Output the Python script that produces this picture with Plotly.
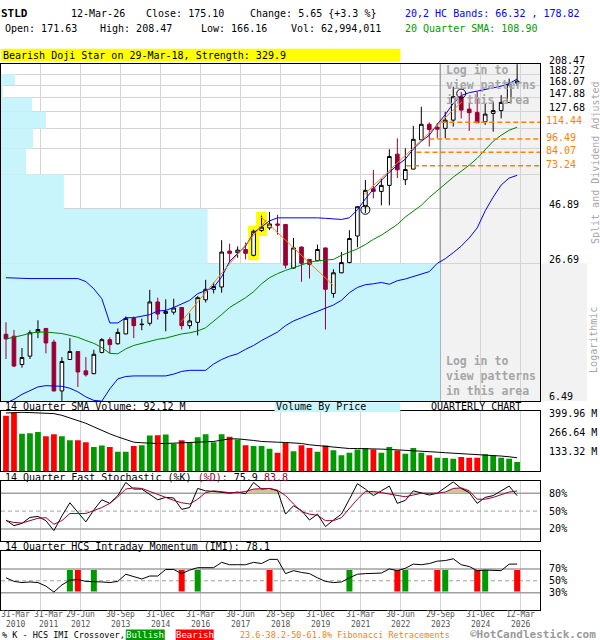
import numpy as np
import plotly.graph_objects as go

W, H = 600, 640
FONT = "DejaVu Sans Mono"
MAROON = "#990033"
ORANGE = "#FF8000"
GRID = "#D4D4D4"
CYAN = "#C8F4FC"
GREY_TXT = "#A6A6A6"
UP_GREEN = "#009900"
DN_RED = "#FF0000"

symbol = "STLD"
as_of = "12-Mar-26"

# Quarterly OHLC, Q1 2010 .. Q1 2026 (split and dividend adjusted)
open_ = [12.9, 12.65, 9.45, 10.3, 13.2, 13.7, 11.9, 7.2, 9.95, 10.8,
         8.85, 8.6, 10.7, 12.2, 11.7, 12.95, 15.2, 14.25, 14.45, 18.0,
         16.0, 16.2, 17.0, 14.1, 14.6, 18.4, 20.5, 21.0, 30.4, 29.9,
         30.9, 29.1, 37.6, 38.6, 40.2, 40.0, 25.5, 31.7, 27.9, 27.5,
         31.4, 19.65, 24.3, 27.0, 35.5, 48.0, 57.7, 56.2, 59.8, 82.5,
         63.4, 70.7, 95.6, 112.2, 108.9, 107.6, 117.1, 149.0, 131.2, 126.8,
         115.2, 125.5, 129.2, 140.6, 171.63]
high = [14.6, 13.5, 11.2, 13.45, 14.9, 13.75, 12.2, 10.2, 12.4, 10.85,
        10.2, 11.0, 12.4, 12.5, 13.7, 15.5, 15.5, 15.15, 20.4, 18.8,
        18.5, 18.6, 17.05, 16.0, 19.1, 22.6, 22.0, 34.0, 32.8, 31.9,
        33.2, 37.9, 43.8, 45.5, 44.2, 40.0, 34.8, 31.8, 27.95, 32.5,
        31.5, 25.2, 30.1, 37.7, 48.3, 63.3, 70.1, 63.9, 86.8, 97.1,
        87.7, 110.4, 134.4, 114.5, 113.3, 127.6, 165.3, 156.6, 140.7, 156.6,
        139.1, 141.5, 151.4, 179.7, 208.47]
low = [10.0, 9.2, 9.15, 10.0, 12.4, 10.6, 7.15, 6.5, 9.9, 7.5,
       8.35, 8.55, 10.6, 10.6, 11.6, 12.9, 12.4, 13.45, 14.1, 15.0,
       13.3, 15.8, 13.55, 13.65, 12.75, 17.9, 19.65, 19.8, 27.2, 28.4,
       27.9, 28.8, 37.0, 37.8, 36.0, 25.4, 25.4, 22.15, 22.9, 27.4,
       13.55, 18.8, 24.2, 26.8, 31.6, 45.0, 52.3, 48.7, 48.7, 64.5,
       60.0, 70.7, 95.6, 89.2, 97.1, 97.1, 109.6, 119.2, 104.7, 113.9,
       111.4, 104.0, 119.2, 140.5, 166.16]
close = [12.3, 9.3, 10.15, 13.1, 13.55, 11.8, 7.2, 9.75, 10.8, 8.75,
         8.5, 10.5, 12.2, 11.6, 13.15, 15.2, 14.1, 14.3, 18.0, 15.9,
         16.3, 16.9, 14.1, 14.8, 18.8, 20.5, 21.1, 30.1, 29.7, 30.7,
         29.7, 37.3, 38.9, 40.2, 39.7, 26.3, 31.4, 26.8, 26.5, 30.9,
         20.5, 24.3, 27.0, 34.6, 48.0, 56.8, 56.2, 59.8, 80.5, 70.2,
         70.4, 96.1, 112.2, 106.4, 106.7, 117.1, 149.0, 129.9, 126.4, 114.0,
         124.6, 129.2, 140.6, 169.45, 175.10]

# Volume (millions of shares) and its 14-quarter SMA
volume_m = [384, 405, 258, 262, 271, 242, 255, 242, 214, 214,
            200, 166, 177, 166, 133, 133, 173, 179, 246, 248,
            253, 189, 214, 200, 235, 255, 200, 255, 237, 219,
            179, 173, 173, 154, 127, 196, 138, 179, 159, 133,
            177, 145, 110, 127, 150, 159, 150, 127, 166, 143,
            120, 159, 127, 110, 92, 90, 85, 97, 92, 92,
            117, 108, 92, 85, 62.994011]
vol_sma14 = [402, 407, 407, 405, 402, 402, 398, 386, 368, 352,
             331, 306, 281, 258, 237, 219, 200, 196, 191, 191,
             191, 193, 196, 198, 198, 200, 205, 214, 223, 223,
             219, 212, 205, 200, 200, 198, 196, 191, 182, 177,
             173, 166, 159, 156, 156, 156, 154, 152, 150, 147,
             145, 145, 140, 136, 131, 127, 124, 122, 120, 115,
             110, 106, 104, 99, 92.12]

# 20,2 HC bands and 20-quarter SMA
hc_upper = [23.1, 23.0, 22.9, 22.9, 22.9, 22.9, 22.9, 22.9, 22.9, 22.9,
            22.2, 20.6, 18.6, 14.5, 14.5, 15.3, 15.3, 15.5, 15.8, 16.4,
            16.5, 17.0, 17.6, 18.3, 19.6, 20.2, 20.9, 23.3, 27.3, 29.7,
            32.0, 36.7, 39.0, 41.5, 42.8, 42.8, 42.8, 43.0, 43.0, 42.8,
            42.6, 42.3, 42.1, 42.8, 46.5, 52.0, 57.6, 63.0, 68.5, 73.6,
            78.4, 86.9, 94.2, 100.2, 112.2, 123.9, 139.1, 150.9, 155.4, 157.9,
            160.3, 162.8, 166.1, 170.7, 178.82]
hc_lower = [6.35, 6.6, 6.95, 7.25, 7.5, 7.6, 7.6, 7.55, 7.4, 7.13,
            6.77, 6.53, 6.48, 7.35, 8.15, 8.35, 8.4, 8.4, 8.4, 8.4,
            8.4, 8.56, 8.8, 8.9, 8.9, 8.9, 9.5, 9.95, 10.3, 10.55,
            11.05, 11.5, 12.1, 12.65, 13.2, 14.1, 14.8, 15.3, 15.8, 16.4,
            16.9, 17.45, 18.3, 19.8, 20.9, 21.5, 21.7, 22.0, 21.6, 22.4,
            22.8, 23.4, 23.9, 24.6, 26.8, 28.1, 29.9, 32.0, 34.8, 38.6,
            46.0, 53.0, 60.0, 64.5, 66.32]
sma20 = [12.3, 12.5, 12.75, 13.05, 13.2, 13.2, 13.15, 13.0, 12.75, 12.5,
         12.1, 11.75, 11.25, 10.6, 10.55, 11.1, 11.5, 11.75, 12.0, 12.25,
         12.4, 12.65, 12.95, 13.1, 13.35, 13.8, 14.7, 15.8, 17.0, 17.9,
         18.8, 20.0, 21.7, 23.1, 24.1, 24.9, 25.6, 26.4, 27.1, 27.5,
         27.6, 27.9, 29.1, 30.0, 31.1, 32.5, 34.3, 35.8, 37.8, 40.0,
         43.2, 45.9, 48.7, 52.8, 56.6, 61.2, 65.1, 69.2, 73.6, 79.1,
         86.8, 94.2, 100.2, 105.5, 108.90]

# 14-quarter fast stochastic
stoch_k = [35, 25.6, 29.4, 39.4, 41.1, 33.9, 17.2, 42, 64, 48,
           32, 52, 69, 63, 76, 98, 87, 87, 78, 69,
           73, 72, 53, 56, 88, 84, 83, 81, 80, 82,
           79, 98, 87, 88, 84, 45, 59, 51, 35, 45,
           24, 35, 45, 70, 96, 87, 76, 84, 92, 63,
           68, 84, 81, 77, 80, 89, 99, 88, 81, 63,
           73, 76, 84, 92, 75.9]
stoch_d = [34, 31, 30, 34, 38, 39, 28, 34, 46, 46,
           46, 51, 56, 63, 74, 87, 89, 88, 83, 77,
           73, 68, 64, 62, 70, 81, 84, 82, 81, 81,
           83, 87, 88, 88, 85, 76, 62, 49, 45, 43,
           34, 34, 39, 55, 70, 83, 83, 81, 79, 76,
           74, 77, 80, 80, 80, 82, 88, 89, 84, 70,
           70, 73, 77, 82, 83.8]
stoch_shade = [(25, 28), (30, 34), (45, 47), (54, 58)]

# 14-quarter HCS intraday momentum and %K crossovers
imi = [55, 49, 47, 48, 47, 41, 31, 43, 51, 52,
       49, 49, 48, 47, 49, 61, 57, 53, 58, 58,
       69, 69, 62, 68, 72, 72, 72, 81, 77, 77,
       77, 81, 79, 86, 86, 62, 67, 64, 62, 55,
       49, 47, 48, 55, 61, 62, 62, 63, 70, 67,
       71, 78, 77, 79, 83, 84, 87, 77, 74, 67,
       68, 68, 67, 78, 78.1]
imi_bull_q = [8, 11, 24, 43, 50, 55, 60]
imi_bear_q = [9, 22, 33, 49, 54, 59, 64]

# x-axis labels
tick_q = [0, 4, 9, 14, 19, 24, 29, 34, 39, 44, 49, 54, 59, 64]
tick_day = ["31-Mar", "31-Mar", "29-Jun", "30-Sep", "31-Dec", "31-Mar", "30-Jun",
            "28-Sep", "31-Dec", "31-Mar", "30-Jun", "29-Sep", "31-Dec", "12-Mar"]
tick_year = ["2010", "2011", "2012", "2013", "2014", "2016", "2017",
             "2018", "2019", "2021", "2022", "2023", "2024", "2026"]

# price grid and volume-by-price per band (bottom band first)
price_grid = [6.49, 26.69, 46.89, 67.08, 87.28, 107.48, 127.68, 147.88, 168.07, 188.27, 208.47]
price_grid_labels = ["6.49", "26.69", "46.89", "", "", "", "127.68", "147.88", "168.07", "188.27", "208.47"]
vbp_volume = [4400, 2070, 630, 250, 320, 450, 310, 20, 140, 0]
VBP_FULL = 5400

# candlestick pattern
pattern_name = "Bearish Doji Star"
pattern_date = "29-Mar-18"
pattern_strength = 329.9
pattern_q = [31, 32]

# Fibonacci retracements, trend lines, signal circles
fib_levels = [114.44, 96.49, 84.07, 73.24]
fib_from_q = [54.5, 53.0, 51.4, 50.1]
trend_lines = [((21.875, 14.6), (32.6, 41.9)),
               ((31.9, 43.3), (41.0, 21.3)),
               ((44.8, 54.3), (57.1, 141.5))]
signal_q = [45, 57]
signal_price = [46.5, 154.0]

# ---------------------------------------------------------------------------
n = len(close)
q = list(range(n))
X0, X1 = -0.625, n + 1.875
GRID_OFF = 0.375
grid_x = [t + GRID_OFF for t in tick_q[1:]]
PATTERN_ZONE = tick_q[11] + GRID_OFF


def fx(px):
    return px / W


def fy(py):
    return 1 - py / H


fig = go.Figure()

# price panel
fig.add_trace(go.Candlestick(
    x=q, open=open_, high=high, low=low, close=close, xaxis="x", yaxis="y",
    increasing=dict(line=dict(color="black", width=1), fillcolor="white"),
    decreasing=dict(line=dict(color=MAROON, width=1), fillcolor=MAROON),
    whiskerwidth=0, hoverinfo="skip"))
for ys, col in [(hc_upper, "#0000FF"), (hc_lower, "#0000FF"), (sma20, "#008000")]:
    fig.add_trace(go.Scatter(x=q, y=ys, mode="lines", line=dict(color=col, width=1),
                             xaxis="x", yaxis="y", hoverinfo="skip"))
for (xa, ya), (xb, yb) in trend_lines:
    fig.add_trace(go.Scatter(x=[xa, xb], y=[ya, yb], mode="lines",
                             line=dict(color=ORANGE, width=1), xaxis="x", yaxis="y", hoverinfo="skip"))
for lvl, start in zip(fib_levels, fib_from_q):
    fig.add_trace(go.Scatter(x=[start, X1], y=[lvl, lvl], mode="lines",
                             line=dict(color=ORANGE, width=1.5, dash="5px,3px"),
                             xaxis="x", yaxis="y", hoverinfo="skip"))
fig.add_trace(go.Scatter(x=signal_q, y=signal_price, mode="markers",
                         marker=dict(symbol="circle-open", size=9, color="black", line=dict(width=1)),
                         xaxis="x", yaxis="y", hoverinfo="skip"))

# volume panel
vol_colors = [UP_GREEN if close[i] >= (close[i - 1] if i else open_[i]) else DN_RED for i in q]
fig.add_trace(go.Bar(x=q, y=volume_m, width=0.72, marker=dict(color=vol_colors, line=dict(width=0)),
                     xaxis="x2", yaxis="y2", hoverinfo="skip"))
fig.add_trace(go.Scatter(x=q, y=vol_sma14, mode="lines", line=dict(color="black", width=1),
                         xaxis="x2", yaxis="y2", hoverinfo="skip"))

# stochastic panel: overbought shading between %D and the 80 line
for a, b in stoch_shade:
    xs, ys = [], []
    if a > 0 and stoch_d[a - 1] < 80 < stoch_d[a]:
        t = (80 - stoch_d[a - 1]) / (stoch_d[a] - stoch_d[a - 1])
        xs.append(a - 1 + t); ys.append(80)
    for i in range(a, b + 1):
        xs.append(i); ys.append(max(stoch_d[i], 80))
    if b + 1 < n and stoch_d[b + 1] < 80 < stoch_d[b]:
        t = (stoch_d[b] - 80) / (stoch_d[b] - stoch_d[b + 1])
        xs.append(b + t); ys.append(80)
    fig.add_trace(go.Scatter(x=xs + xs[::-1], y=ys + [80] * len(xs), mode="lines", fill="toself",
                             fillcolor="#CCC69A", line=dict(width=0), xaxis="x3", yaxis="y3",
                             hoverinfo="skip"))
fig.add_trace(go.Scatter(x=q, y=stoch_k, mode="lines", line=dict(color="black", width=1),
                         xaxis="x3", yaxis="y3", hoverinfo="skip"))
fig.add_trace(go.Scatter(x=q, y=stoch_d, mode="lines", line=dict(color=MAROON, width=1),
                         xaxis="x3", yaxis="y3", hoverinfo="skip"))

# IMI panel
fig.add_trace(go.Bar(x=imi_bull_q + imi_bear_q, y=[36] * (len(imi_bull_q) + len(imi_bear_q)), base=32,
                     width=0.75,
                     marker=dict(color=[UP_GREEN] * len(imi_bull_q) + [DN_RED] * len(imi_bear_q),
                                 line=dict(width=0)),
                     xaxis="x4", yaxis="y4", hoverinfo="skip"))
fig.add_trace(go.Scatter(x=q, y=imi, mode="lines", line=dict(color="black", width=1),
                         xaxis="x4", yaxis="y4", hoverinfo="skip"))

# ---------------------------------------------------------------------------
shapes = []
# pattern zone (greyed) and its divider
shapes.append(dict(type="rect", xref="x", yref="y", x0=PATTERN_ZONE, x1=X1,
                   y0=price_grid[0], y1=price_grid[-1],
                   fillcolor="#F2F2F2", line=dict(width=0), layer="below"))
shapes.append(dict(type="line", xref="x", yref="y", x0=PATTERN_ZONE, x1=PATTERN_ZONE,
                   y0=price_grid[0], y1=price_grid[-1],
                   line=dict(color="#A0A0A0", width=1.5), layer="between"))
# volume by price
for lo, hi, v in zip(price_grid[:-1], price_grid[1:], vbp_volume):
    if v > 0:
        shapes.append(dict(type="rect", xref="x", yref="y", x0=X0, x1=X0 + (X1 - X0) * v / VBP_FULL,
                           y0=lo, y1=hi, fillcolor=CYAN, line=dict(width=0), layer="between"))
# pattern highlight
for pq in pattern_q:
    shapes.append(dict(type="rect", xref="x", yref="y", x0=pq - 0.69, x1=pq + 0.69,
                       y0=low[pq] * 0.96, y1=high[pq] * 1.04,
                       fillcolor="#FFFF00", line=dict(width=0), layer="between"))
# reference levels
for xref, yref, levels in [("x3", "y3", (80, 50, 20)), ("x4", "y4", (70, 50, 30))]:
    for k, lv in enumerate(levels):
        shapes.append(dict(type="line", xref=xref, yref=yref, x0=X0, x1=X1, y0=lv, y1=lv,
                           line=dict(color="#A0A0A0", width=1.5 if k != 1 else 1,
                                     dash="solid" if k != 1 else "4px,3px"),
                           layer="between"))
# header / legend boxes
shapes.append(dict(type="rect", xref="paper", yref="paper", x0=0, x1=fx(400), y0=fy(57.5), y1=fy(45),
                   fillcolor="#FFFF00", line=dict(width=0)))
shapes.append(dict(type="rect", xref="paper", yref="paper", x0=fx(274), x1=fx(400), y0=fy(410.5),
                   y1=fy(401), fillcolor=CYAN, line=dict(width=0)))
shapes.append(dict(type="rect", xref="paper", yref="paper", x0=fx(541), x1=fx(587), y0=fy(399.5),
                   y1=fy(261), fillcolor="#F2F2F2", line=dict(width=0), layer="below"))
shapes.append(dict(type="rect", xref="paper", yref="paper", x0=fx(125), x1=fx(164), y0=fy(640),
                   y1=fy(629.5), fillcolor=UP_GREEN, line=dict(width=0)))
shapes.append(dict(type="rect", xref="paper", yref="paper", x0=fx(175), x1=fx(213), y0=fy(640),
                   y1=fy(629.5), fillcolor=DN_RED, line=dict(width=0)))


def txt(px, py, s, size=10, color="black", bold=False, anchor="left", **kw):
    return dict(x=fx(px), y=fy(py), xref="paper", yref="paper", text=s, showarrow=False,
                xanchor=anchor, yanchor="middle", borderpad=0, borderwidth=0,
                font=dict(family=FONT, size=size, color=color, weight="bold" if bold else "normal"), **kw)


chg = close[-1] - close[-2]
pct = chg / close[-2] * 100
ann = [
    txt(0, 9.5, symbol, size=11, bold=True),
    txt(70, 9.5, as_of),
    txt(145, 9.5, f"Close: {close[-1]:.2f}"),
    txt(249.5, 9.5, f"Change: {chg:.2f} {{{'+' if chg >= 0 else ''}{pct:.1f} %}}"),
    txt(4.5, 24.5, f"Open: {open_[-1]:.2f}"),
    txt(99.5, 24.5, f"High: {high[-1]:.2f}"),
    txt(200, 24.5, f"Low: {low[-1]:.2f}"),
    txt(290, 24.5, f"Vol: {round(volume_m[-1] * 1e6):,}"),
    txt(404.5, 9.5, f"20,2 HC Bands: {hc_lower[-1]:.2f} , {hc_upper[-1]:.2f}", color="#0000FF"),
    txt(404.5, 24.5, f"20 Quarter SMA: {sma20[-1]:.2f}", color="#009900"),
    txt(2, 51.5, f"{pattern_name} on {pattern_date}, Strength: {pattern_strength}"),
    txt(446, 82, "Log in to<br>view patterns<br>in this area", size=11.5, color=GREY_TXT, bold=True,
        align="left"),
    txt(446, 374, "Log in to<br>view patterns<br>in this area", size=11.5, color=GREY_TXT, bold=True,
        align="left"),
    txt(595, 160, "Split and Dividend Adjusted", color=GREY_TXT, anchor="center", textangle=-90),
    txt(594, 338, "Logarithmic", color=GREY_TXT, anchor="center", textangle=-90),
    txt(4.5, 405.5, f"14 Quarter SMA Volume: {vol_sma14[-1]:.2f} M"),
    txt(275.5, 405.5, "Volume By Price"),
    txt(430.5, 405.5, "QUARTERLY CHART"),
    txt(4.5, 476, "14 Quarter Fast Stochastic (%K) "
                  f"<span style='color:{MAROON}'>(%D)</span>: {stoch_k[-1]:.1f} "
                  f"<span style='color:{MAROON}'>{stoch_d[-1]:.1f}</span>"),
    txt(4.5, 546, f"14 Quarter HCS Intraday Momentum (IMI): {imi[-1]:.1f}"),
    txt(1, 635, "% K - HCS IMI Crossover,", size=8.5),
    txt(144.5, 635, "Bullish", size=9, color="white", anchor="center"),
    txt(194, 635, "Bearish", size=9, color="white", anchor="center"),
    txt(239, 635, "23.6-38.2-50-61.8% Fibonacci Retracements", size=8.5, color=ORANGE),
    txt(596, 634.5, "©HotCandlestick.com", size=11, color="#9A9A9A", bold=True, anchor="right"),
]
# right-hand price scale, written just above each grid line
for lvl, lab in zip(price_grid, price_grid_labels):
    if lab:
        ann.append(dict(x=fx(548), y=np.log10(lvl), xref="paper", yref="y", text=lab,
                        showarrow=False, xanchor="left", yanchor="middle", yshift=4, borderpad=0,
                        font=dict(family=FONT, size=10, color="black")))
for lvl in fib_levels:
    ann.append(dict(x=fx(545), y=np.log10(lvl), xref="paper", yref="y", text=f"{lvl:.2f}",
                    showarrow=False, xanchor="left", yanchor="middle", yshift=1.5, borderpad=0,
                    font=dict(family=FONT, size=10, color=ORANGE)))
# date labels under the grid lines; the first two are nudged right so they stay apart
for k, (tq, d, yr) in enumerate(zip(tick_q, tick_day, tick_year)):
    if k == 0:
        xpos, xref = fx(14.5), "paper"
    elif k == 1:
        xpos, xref = fx(48), "paper"
    else:
        xpos, xref = tq + GRID_OFF, "x4"
    for line, py in ((d, 614.5), (yr, 624)):
        ann.append(dict(x=xpos, y=fy(py), xref=xref, yref="paper", text=line, showarrow=False,
                        xanchor="center", yanchor="middle", borderpad=0,
                        font=dict(family=FONT, size=8, color="#555555")))

common_x = dict(domain=[0, fx(540)], range=[X0, X1], showgrid=True, gridcolor=GRID, gridwidth=1,
                tickmode="array", tickvals=grid_x, showticklabels=False, ticks="",
                showline=True, linecolor="black", linewidth=1, mirror=True, zeroline=False,
                fixedrange=True)
tick_font = dict(family=FONT, size=10, color="black")
common_y = dict(side="right", showline=True, linecolor="black", linewidth=1, mirror=True,
                zeroline=False, ticks="", tickfont=tick_font, tickmode="array", fixedrange=True,
                ticklabelstandoff=6)

fig.update_layout(
    width=W, height=H, margin=dict(l=0, r=0, t=0, b=0), autosize=False,
    paper_bgcolor="white", plot_bgcolor="white", showlegend=False, hovermode=False,
    boxgap=0.35, font=dict(family=FONT, size=10, color="black"),
    xaxis=dict(common_x, anchor="y", rangeslider=dict(visible=False)),
    xaxis2=dict(common_x, anchor="y2", matches="x"),
    xaxis3=dict(common_x, anchor="y3", matches="x"),
    xaxis4=dict(common_x, anchor="y4", matches="x"),
    yaxis=dict(common_y, anchor="x", domain=[fy(399.5), fy(60.5)], type="log",
               range=[np.log10(price_grid[0]) - 1e-4, np.log10(price_grid[-1]) + 1e-4],
               tickvals=price_grid, showticklabels=False, showgrid=True, gridcolor=GRID),
    yaxis2=dict(common_y, anchor="x2", domain=[fy(470), fy(410)], range=[0, 413],
                tickvals=[133.32, 266.64, 399.96], ticktext=["133.32 M", "266.64 M", "399.96 M"],
                showgrid=False),
    yaxis3=dict(common_y, anchor="x3", domain=[fy(540.3), fy(480.3)], range=[0, 100],
                tickvals=[20, 50, 80], ticktext=["20%", "50%", "80%"], showgrid=False),
    yaxis4=dict(common_y, anchor="x4", domain=[fy(610.3), fy(550.5)], range=[0, 100],
                tickvals=[30, 50, 70], ticktext=["30%", "50%", "70%"], showgrid=False),
    shapes=shapes,
    annotations=ann,
)

fig.write_html("out.html", include_plotlyjs=True, full_html=True, config={"displayModeBar": False})
